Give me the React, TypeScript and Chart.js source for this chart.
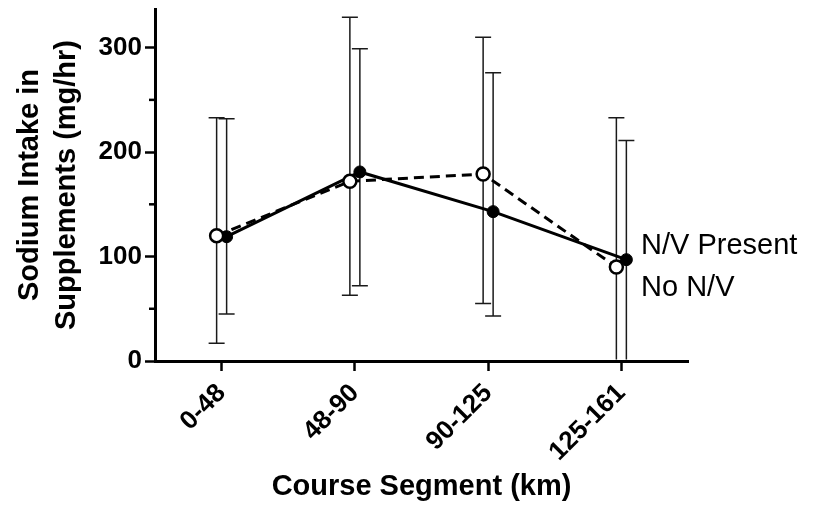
import React, { useEffect, useRef } from "react";
import { Chart, registerables } from "chart.js";

Chart.register(...registerables);

// Course segments along the 161 km route
const segments = ["0-48", "48-90", "90-125", "125-161"];

// Runners reporting nausea/vomiting (open circles, dashed line)
const presentMean = [120, 172, 179, 90];
const presentHigh = [233, 329, 310, 233];
const presentLow = [17, 63, 55, -50];

// Runners without nausea/vomiting (filled circles, solid line)
const absentMean = [119, 181, 143, 97];
const absentHigh = [232, 299, 276, 211];
const absentLow = [45, 72, 43, -15];

const yTicks = [0, 100, 200, 300];
const yMinorTicks = [50, 150, 250];
const legendLabels = ["N/V Present", "No N/V"];

const FONT = "'Liberation Sans', Arial, Helvetica, sans-serif";
const SHIFT = 0.0375; // side-by-side nudge so the two groups' bars don't overlap

const errorBars = {
  id: "errorBars",
  beforeDatasetsDraw(chart: any) {
    const { ctx, chartArea, scales } = chart;
    const x = scales.x;
    const y = scales.y;
    ctx.save();
    ctx.beginPath();
    ctx.rect(chartArea.left, chartArea.top - 20, chartArea.width, chartArea.height + 20 - 1.5);
    ctx.clip();
    ctx.strokeStyle = "#1a1a1a";
    ctx.lineWidth = 1.5;
    chart.data.datasets.forEach((ds: any) => {
      ds.data.forEach((p: any, i: number) => {
        const px = x.getPixelForValue(p.x);
        const top = y.getPixelForValue(ds.high[i]);
        const bot = y.getPixelForValue(ds.low[i]);
        ctx.beginPath();
        ctx.moveTo(px, top);
        ctx.lineTo(px, bot);
        ctx.moveTo(px - 8, top);
        ctx.lineTo(px + 8, top);
        ctx.moveTo(px - 8, bot);
        ctx.lineTo(px + 8, bot);
        ctx.stroke();
      });
    });
    ctx.restore();
  },
};

const extras = {
  id: "extras",
  afterDraw(chart: any) {
    const { ctx, chartArea, scales } = chart;
    const y = scales.y;
    ctx.save();
    // short minor ticks on the y axis
    ctx.strokeStyle = "#000";
    ctx.lineWidth = 2.5;
    yMinorTicks.forEach((v) => {
      const py = y.getPixelForValue(v);
      ctx.beginPath();
      ctx.moveTo(chartArea.left - 6, py);
      ctx.lineTo(chartArea.left, py);
      ctx.stroke();
    });
    // series labels beside the last segment
    ctx.fillStyle = "#000";
    ctx.font = `29px ${FONT}`;
    ctx.textAlign = "left";
    ctx.textBaseline = "middle";
    ctx.fillText(legendLabels[0], chartArea.right - 47, chartArea.top + 237);
    ctx.fillText(legendLabels[1], chartArea.right - 47, chartArea.top + 279);
    ctx.restore();
  },
};

export default function App() {
  const canvasRef = useRef<HTMLCanvasElement | null>(null);

  useEffect(() => {
    const canvas = canvasRef.current;
    if (!canvas) return;

    const axisGrid = {
      display: true,
      drawOnChartArea: false,
      drawTicks: true,
      tickLength: 10,
      tickWidth: 2.5,
      tickColor: "#000",
    };
    const axisBorder = { display: true, color: "#000", width: 3 };

    const chart = new Chart(canvas, {
      type: "line",
      data: {
        datasets: [
          {
            label: legendLabels[0],
            data: presentMean.map((v, i) => ({ x: i - SHIFT, y: v })),
            high: presentHigh,
            low: presentLow,
            borderColor: "#000",
            borderWidth: 3,
            borderDash: [10, 6],
            pointRadius: 6.5,
            pointBackgroundColor: "#fff",
            pointBorderColor: "#000",
            pointBorderWidth: 2.5,
            fill: false,
            tension: 0,
          } as any,
          {
            label: legendLabels[1],
            data: absentMean.map((v, i) => ({ x: i + SHIFT, y: v })),
            high: absentHigh,
            low: absentLow,
            borderColor: "#000",
            borderWidth: 3,
            pointRadius: 6,
            pointBackgroundColor: "#000",
            pointBorderColor: "#000",
            pointBorderWidth: 1,
            fill: false,
            tension: 0,
          } as any,
        ],
      },
      options: {
        animation: false,
        responsive: false,
        devicePixelRatio: 1,
        layout: { padding: { left: 0, right: 127, top: 7, bottom: 0 } },
        plugins: {
          legend: { display: false },
          tooltip: { enabled: false },
        },
        scales: {
          x: {
            type: "linear",
            min: -0.5,
            max: 3.5,
            afterBuildTicks: (s: any) => {
              s.ticks = segments.map((_, i) => ({ value: i }));
            },
            afterFit: (s: any) => {
              s.height = 146;
              s.paddingLeft = 0;
              s.paddingRight = 0;
            },
            ticks: {
              autoSkip: false,
              minRotation: 45,
              maxRotation: 45,
              padding: 7,
              color: "#000",
              font: { family: FONT, size: 26, weight: "bold" },
              callback: (v: any) => segments[v] ?? "",
            },
            grid: axisGrid,
            border: axisBorder,
            title: {
              display: true,
              text: "Course Segment (km)",
              color: "#000",
              font: { family: FONT, size: 29, weight: "bold" },
              padding: { top: 0, bottom: 3 },
            },
          },
          y: {
            type: "linear",
            min: 0,
            max: 337,
            afterBuildTicks: (s: any) => {
              s.ticks = yTicks.map((v) => ({ value: v }));
            },
            afterFit: (s: any) => {
              s.width = 155;
              s.paddingTop = 0;
              s.paddingBottom = 0;
            },
            ticks: {
              padding: 3,
              color: "#000",
              font: { family: FONT, size: 26, weight: "bold" },
            },
            grid: axisGrid,
            border: axisBorder,
            title: {
              display: true,
              text: ["Sodium Intake in", "Supplements (mg/hr)"],
              color: "#000",
              font: { family: FONT, size: 29, weight: "bold", lineHeight: 1.276 },
              padding: { top: 11.5, bottom: 0 },
            },
          },
        },
      } as any,
      plugins: [errorBars, extras],
    });

    return () => chart.destroy();
  }, []);

  return (
    <div style={{ position: "fixed", left: 0, top: 0, width: 815, height: 507, background: "#fff" }}>
      <canvas ref={canvasRef} width={815} height={507} style={{ display: "block" }} />
    </div>
  );
}
